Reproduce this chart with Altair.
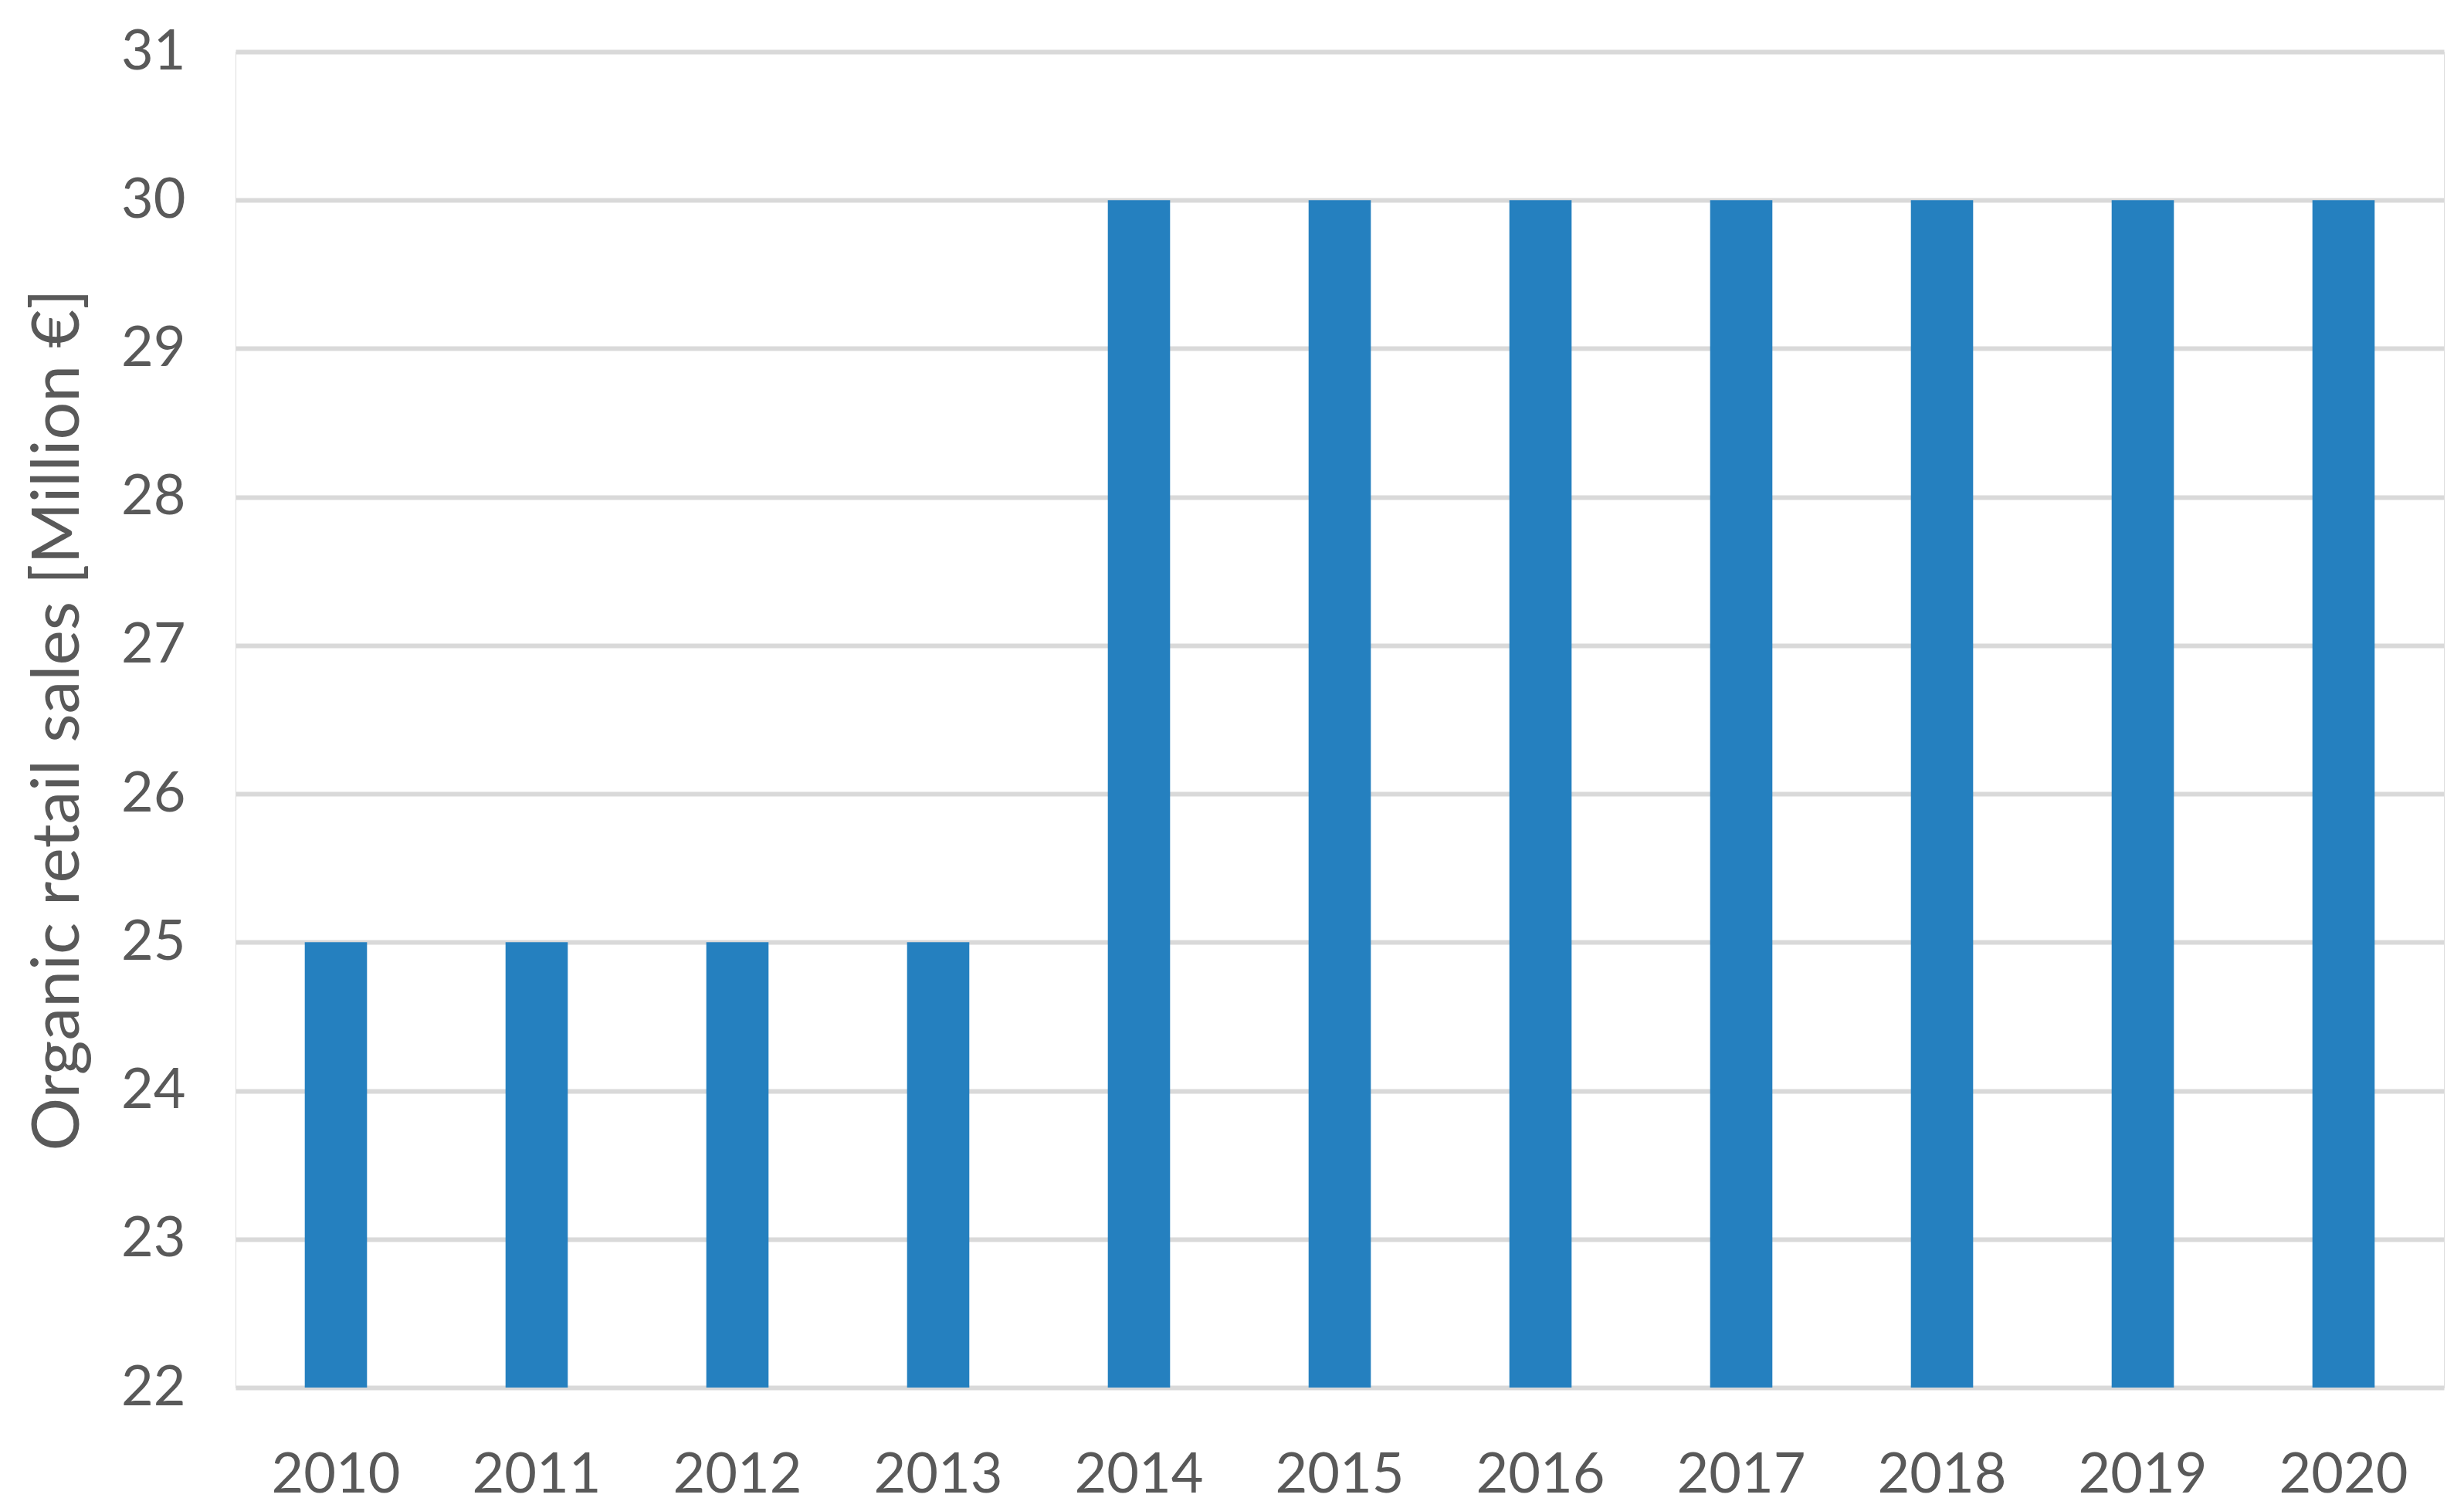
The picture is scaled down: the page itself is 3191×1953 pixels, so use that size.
import altair as alt
import pandas as pd

years = ["2010", "2011", "2012", "2013", "2014", "2015", "2016", "2017", "2018", "2019", "2020"]
sales = [25, 25, 25, 25, 30, 30, 30, 30, 30, 30, 30]
y_ticks = [22, 23, 24, 25, 26, 27, 28, 29, 30, 31]

df = pd.DataFrame({"year": years, "sales": sales})

FONT = "Lato"
TXT = "#595959"

chart = alt.Chart(df).mark_bar(color="#2580BF").encode(
    x=alt.X("year:N", sort=years, title=None,
            scale=alt.Scale(paddingInner=0.69, paddingOuter=0.345),
            axis=alt.Axis(labelAngle=0, labelFont=FONT, labelFontSize=72, labelColor=TXT,
                          ticks=False, domain=False, grid=False, labelPadding=78)),
    y=alt.Y("sales:Q", title="Organic retail sales [Million €]",
            scale=alt.Scale(domain=[22, 31], nice=False, zero=False),
            axis=alt.Axis(values=y_ticks, labelFont=FONT, labelFontSize=72, labelColor=TXT,
                          ticks=False, domain=False, grid=True, gridColor="#D9D9D9",
                          gridWidth=6, labelPadding=65,
                          titleFont=FONT, titleFontSize=86, titleFontWeight="normal",
                          titleColor=TXT, titleX=-230, titleY=865, titleAngle=270,
                          titleAlign="center", titleBaseline="middle")),
    y2=alt.datum(22),
).properties(
    width=2860, height=1730,
    autosize=alt.AutoSizeParams(type="none"),
    padding={"left": 297, "top": 59, "right": 18, "bottom": 155},
).configure_view(stroke=None).configure(background="white")

chart.save("out.html", embed_options={"renderer": "svg", "actions": False})
